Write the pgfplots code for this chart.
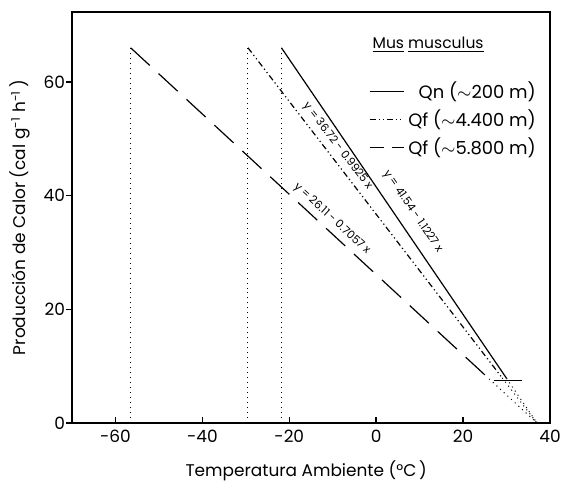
\documentclass[border=0pt]{standalone}
\usepackage{fontspec}
\setmainfont{Poppins}
\usepackage{pgfplots}
\pgfplotsset{compat=1.18}

\begin{document}
\begin{tikzpicture}
\begin{axis}[
  name=ax,
  scale only axis,
  width=239bp, height=205.5bp,
  xmin=-70, xmax=40, ymin=0, ymax=72.3,
  xtick={-60,-40,-20,0,20,40},
  ytick={0,20,40,60},
  tick pos=left,
  tick align=inside,
  major tick length=3bp,
  ytick style={xshift=-3bp},
  axis line style={line width=0.9pt},
  tick style={line width=0.7pt, black},
  font=\fontsize{8.5}{10}\selectfont,
  ticklabel style={font=\fontsize{8.5}{10}\selectfont},
  /pgf/number format/assume math mode=true,
  xlabel={Temperatura Ambiente (°C\,)},
  ylabel={Producción de Calor (cal g\textsuperscript{-1} h\textsuperscript{-1}\,)},
  xlabel style={at={(axis description cs:0.49,-0.117)}, anchor=center},
  ylabel style={at={(axis description cs:-0.109,0.5)}, anchor=center},
  legend style={draw=none, fill=none, at={(rel axis cs:0.992,0.85)},
                anchor=north east, font=\fontsize{9}{10}\selectfont,
                row sep=0bp},
  legend cell align=right,
  clip=false,
]
% regression lines
\addplot[black, line width=0.6pt] coordinates {(-21.8,66) (30,7.86)};
\addlegendentry{Qn ($\sim$200 m)}
\addplot[black, line width=0.6pt,
  dash pattern=on 3bp off 1.5bp on 0.6bp off 1.5bp on 0.6bp off 1.5bp]
  coordinates {(-29.5,66) (29,7.94)};
\addlegendentry{Qf ($\sim$4.400 m)}
\addplot[black, line width=0.6pt, dash pattern=on 13bp off 6bp,
  legend image post style={dash pattern=on 7bp off 4bp}]
  coordinates {(-56.5,66) (26,7.76)};
\addlegendentry{Qf ($\sim$5.800 m)}

% vertical dotted drops
\addplot[black, line width=0.5pt, dotted, forget plot] coordinates {(-56.5,0) (-56.5,66)};
\addplot[black, line width=0.5pt, dotted, forget plot] coordinates {(-29.5,0) (-29.5,66)};
\addplot[black, line width=0.5pt, dotted, forget plot] coordinates {(-21.8,0) (-21.8,66)};

% extrapolations to x-intercept
\addplot[black, line width=0.5pt, dotted, forget plot] coordinates {(30,7.86) (37,0)};
\addplot[black, line width=0.5pt, dotted, forget plot] coordinates {(29,7.94) (37,0)};
\addplot[black, line width=0.5pt, dotted, forget plot] coordinates {(26,7.76) (37,0)};
\addplot[black, line width=0.6pt, forget plot] coordinates {(27,7.5) (33.5,7.5)};

% equations
\node[rotate=-55.7, font=\fontsize{5.6}{6}\selectfont] at (axis cs:8.4,37.2) {y = 41.54 - 1.1227 x};
\node[rotate=-52.4, font=\fontsize{5.6}{6}\selectfont] at (axis cs:-8.9,48.7) {y = 36.72 - 0.9925 x};
\node[rotate=-42.7, font=\fontsize{5.6}{6}\selectfont] at (axis cs:-10.2,35.9) {y = 26.11 - 0.7057 x};

\node[font=\fontsize{7.8}{10}\selectfont] at (rel axis cs:0.745,0.92) {\underline{Mus}\ \underline{musculus}};
\end{axis}
\pgfresetboundingbox
\path ([xshift=-36bp,yshift=-31.5bp]ax.south west) rectangle ([xshift=5.5bp,yshift=6bp]ax.north east);
\end{tikzpicture}
\end{document}
